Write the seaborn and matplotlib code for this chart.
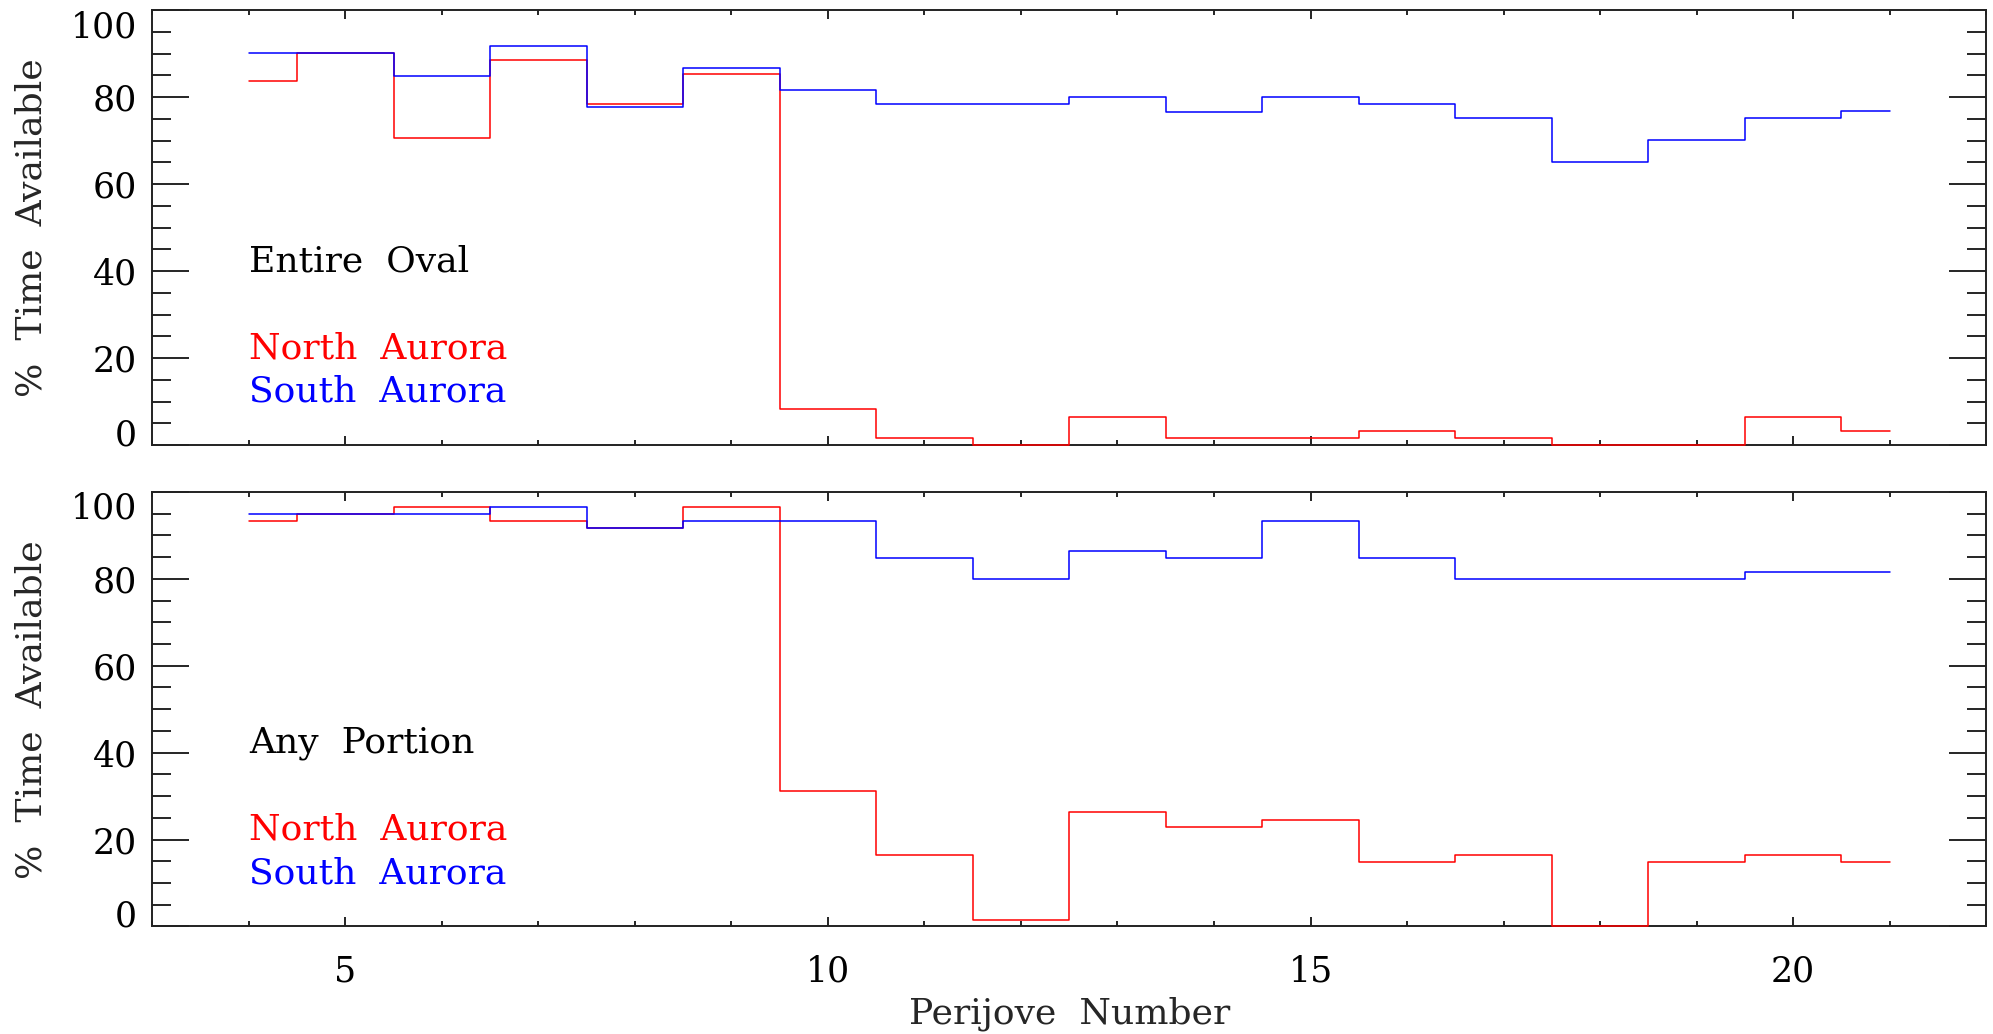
import numpy as np
import pandas as pd
import matplotlib
matplotlib.use("Agg")
import matplotlib.pyplot as plt
from matplotlib.ticker import MultipleLocator, FixedLocator
import seaborn as sns

# Perijove numbers and % time available
perijove = [4, 5, 6, 7, 8, 9, 10, 11, 12, 13, 14, 15, 16, 17, 18, 19, 20, 21]

oval_north = [83.7, 90.2, 70.5, 88.5, 78.3, 85.3, 8.2, 1.7, 0.0, 6.5,
              1.7, 1.7, 3.3, 1.7, 0.0, 0.0, 6.5, 3.3]
oval_south = [90.2, 90.2, 84.9, 91.8, 77.8, 86.6, 81.6, 78.3, 78.3, 80.0,
              76.6, 80.0, 78.3, 75.1, 65.1, 70.1, 75.1, 76.7]

any_north = [93.3, 95.0, 96.6, 93.3, 91.7, 96.6, 31.2, 16.5, 1.6, 26.4,
             23.0, 24.6, 14.8, 16.5, 0.0, 14.8, 16.5, 14.8]
any_south = [95.0, 95.0, 95.0, 96.6, 91.7, 93.3, 93.3, 84.8, 79.9, 86.5,
             84.8, 93.3, 84.8, 79.9, 79.9, 79.9, 81.5, 81.5]

panel_titles = ["Entire  Oval", "Any  Portion"]
ytick_vals = [0, 20, 40, 60, 80, 100]
xtick_vals = [5, 10, 15, 20]

sns.set_style("ticks")
plt.rcParams['font.family'] = ['DejaVu Serif']
plt.rcParams['font.size'] = 25
label_size = 26

fig = plt.figure(figsize=(19.93, 10.34), dpi=100)
ax_top = fig.add_axes([0.0765, 0.5696, 0.92, 0.4207])
ax_bot = fig.add_axes([0.0765, 0.1040, 0.92, 0.4202])

panels = [(ax_top, oval_north, oval_south), (ax_bot, any_north, any_south)]

for i, (ax, north, south) in enumerate(panels):
    df = pd.DataFrame({
        "perijove": perijove * 2,
        "pct": north + south,
        "aurora": ["North"] * len(perijove) + ["South"] * len(perijove),
    })
    sns.lineplot(data=df, x="perijove", y="pct", hue="aurora",
                 palette={"North": "red", "South": "blue"},
                 estimator=None, drawstyle="steps-mid", linewidth=1.1,
                 legend=False, ax=ax)
    # lines sit on top of the frame, like the original
    for ln in ax.lines:
        ln.set_clip_on(False)
        ln.set_zorder(3)

    ax.set_xlim(3, 22)
    ax.set_ylim(0, 100)
    ax.xaxis.set_major_locator(FixedLocator(xtick_vals))
    ax.xaxis.set_minor_locator(MultipleLocator(1))
    ax.yaxis.set_major_locator(FixedLocator(ytick_vals))
    ax.yaxis.set_minor_locator(MultipleLocator(5))

    ax.tick_params(which="both", direction="in", top=True, right=True,
                   colors="black", width=1.2)
    ax.tick_params(axis="y", which="major", length=26.6, pad=11)
    ax.tick_params(axis="y", which="minor", length=14)
    ax.tick_params(axis="x", which="major", length=6.5, pad=20)
    ax.tick_params(axis="x", which="minor", length=3.6)

    for s in ax.spines.values():
        s.set_linewidth(1.4)
        s.set_color("#222222")
        s.set_zorder(2.5)

    ax.set_ylabel("%  Time  Available", fontsize=label_size)
    ax.yaxis.set_label_coords(-0.0657, 0.5)
    ax.yaxis.label.set_va("center")

    # IDL-style end labels kept inside the axis range
    yt = ax.yaxis.get_major_ticks()
    yt[0].label1.set_va("baseline")
    yt[-1].label1.set_va("top")

    ax.text(4, 40, panel_titles[i], color="black", va="baseline", fontsize=label_size)
    ax.text(4, 20, "North  Aurora", color="red", va="baseline", fontsize=label_size)
    ax.text(4, 10, "South  Aurora", color="blue", va="baseline", fontsize=label_size)

ax_top.set_xlabel("")
ax_top.tick_params(axis="x", labelbottom=False)
ax_bot.set_xlabel("Perijove  Number", fontsize=label_size)
ax_bot.xaxis.set_label_coords(0.5, -0.201)
ax_bot.xaxis.label.set_va("center")

fig.savefig("out.png", dpi=100, facecolor="white")
